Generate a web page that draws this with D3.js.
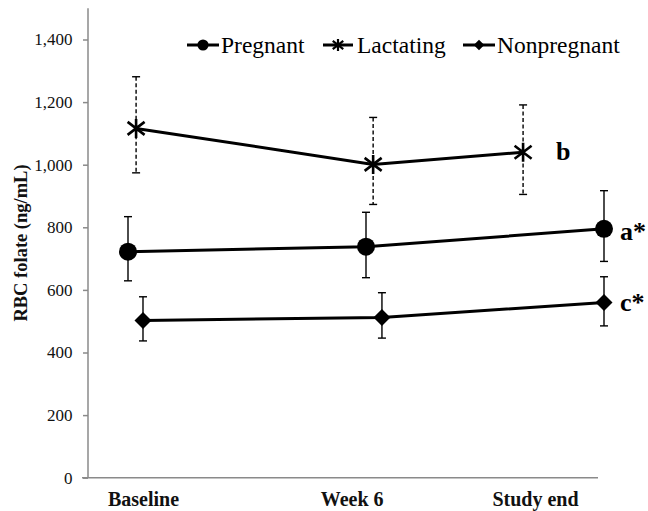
<!DOCTYPE html>
<html>
<head>
<meta charset="utf-8">
<script src="https://cdn.jsdelivr.net/npm/d3@7/dist/d3.min.js"></script>
<style>
  html, body { margin: 0; padding: 0; background: #fff; }
  svg { display: block; }
  text { font-family: "Liberation Serif", "Times New Roman", serif; }
</style>
</head>
<body>
<svg id="chart" width="648" height="511"></svg>
<script>
// ---- data ----
const categories = ["Baseline", "Week 6", "Study end"];
const categoryLabelX = [0.063, 0.94, 1.71];           // where the category labels sit on the time axis
const yTicks = [0, 200, 400, 600, 800, 1000, 1200, 1400];

const seriesNames = ["Pregnant", "Lactating", "Nonpregnant"];

const pregnantX     = [0, 1, 2];
const pregnantMean  = [722, 738, 795];
const pregnantUpper = [834, 848, 917];
const pregnantLower = [629, 639, 691];

const lactatingX     = [0.034, 1.03, 1.66];
const lactatingMean  = [1116, 1001, 1040];
const lactatingUpper = [1281, 1151, 1191];
const lactatingLower = [974, 873, 905];

const nonpregnantX     = [0.063, 1.067, 2.0];
const nonpregnantMean  = [502, 512, 560];
const nonpregnantUpper = [578, 591, 642];
const nonpregnantLower = [437, 446, 485];

const endLabels = ["a*", "b", "c*"];

// ---- build ----
const svg = d3.select("#chart");
const axisX = 88, axisY = 477.7;

const x = d3.scaleLinear().domain([0, 2]).range([128, 604]);
const y = d3.scaleLinear().domain([0, 1500]).range([axisY, 8.2]);

function build(xs, m, u, l) {
  return xs.map((v, i) => ({ x: v, mean: m[i], hi: u[i], lo: l[i] }));
}
const series = [
  { name: seriesNames[0], marker: "circle",  dashed: false, label: endLabels[0], labelDx: 16, labelDy: 11,
    pts: build(pregnantX, pregnantMean, pregnantUpper, pregnantLower) },
  { name: seriesNames[1], marker: "star",    dashed: true,  label: endLabels[1], labelDx: 33, labelDy: 8,
    pts: build(lactatingX, lactatingMean, lactatingUpper, lactatingLower) },
  { name: seriesNames[2], marker: "diamond", dashed: false, label: endLabels[2], labelDx: 16, labelDy: 9,
    pts: build(nonpregnantX, nonpregnantMean, nonpregnantUpper, nonpregnantLower) }
];

const axisColor = "#8a8a8a";
const serif = '"Liberation Serif", "Times New Roman", serif';

// y axis
const yAxis = d3.axisLeft(y).tickValues(yTicks).tickFormat(d3.format(",")).tickSize(5).tickPadding(10.5);
const gy = svg.append("g").attr("transform", `translate(${axisX},0)`).call(yAxis)
  .attr("font-family", serif);
gy.select(".domain").remove();
gy.selectAll(".tick line").attr("stroke", axisColor).attr("stroke-width", 1.5);
gy.selectAll(".tick text").attr("font-size", 17).attr("fill", "#111");
svg.append("line").attr("x1", axisX).attr("x2", axisX).attr("y1", y(1500)).attr("y2", axisY)
  .attr("stroke", axisColor).attr("stroke-width", 1.5);

// x axis line
svg.append("line").attr("x1", 82).attr("x2", 598).attr("y1", axisY).attr("y2", axisY)
  .attr("stroke", axisColor).attr("stroke-width", 1.5);

// category labels
const xAxis = d3.axisBottom(x).tickValues(categoryLabelX).tickFormat((d, i) => categories[i]).tickSize(0).tickPadding(14);
const gx = svg.append("g").attr("transform", `translate(0,${axisY})`).call(xAxis)
  .attr("font-family", serif);
gx.select(".domain").remove();
gx.selectAll(".tick text").attr("font-size", 20).attr("font-weight", "bold").attr("fill", "#111");

// y title
svg.append("text")
  .attr("transform", `translate(27,243) rotate(-90)`)
  .attr("text-anchor", "middle")
  .attr("font-size", 18.5).attr("font-weight", "bold").attr("fill", "#111")
  .text("RBC folate (ng/mL)");

// marker drawing
function drawMarker(g, type, cx, cy, scale) {
  if (type === "circle") {
    g.append("circle").attr("cx", cx).attr("cy", cy).attr("r", 9 * scale).attr("fill", "#000");
  } else if (type === "diamond") {
    const s = 8.5 * scale;
    g.append("path").attr("d", `M${cx},${cy - s}L${cx + s},${cy}L${cx},${cy + s}L${cx - s},${cy}Z`).attr("fill", "#000");
  } else {
    const h = 9.5 * scale, w = 8.5 * scale, d = 6.5 * scale;
    g.append("path")
      .attr("d", `M${cx},${cy - h}L${cx},${cy + h}M${cx - w},${cy - d}L${cx + w},${cy + d}M${cx - w},${cy + d}L${cx + w},${cy - d}`)
      .attr("stroke", "#000").attr("stroke-width", 2.6 * Math.max(scale, 0.85)).attr("fill", "none");
  }
}

const line = d3.line().x(d => x(d.x)).y(d => y(d.mean));

series.forEach(s => {
  const g = svg.append("g");
  // error bars
  s.pts.forEach(p => {
    const px = x(p.x);
    const eb = g.append("g").attr("stroke", "#000").attr("stroke-width", 1.4);
    eb.append("line").attr("x1", px).attr("x2", px).attr("y1", y(p.hi)).attr("y2", y(p.lo))
      .attr("stroke-dasharray", s.dashed ? "4,2.5" : null);
    eb.append("line").attr("x1", px - 4).attr("x2", px + 4).attr("y1", y(p.hi)).attr("y2", y(p.hi));
    eb.append("line").attr("x1", px - 4).attr("x2", px + 4).attr("y1", y(p.lo)).attr("y2", y(p.lo));
  });
  g.append("path").datum(s.pts).attr("d", line).attr("fill", "none").attr("stroke", "#000").attr("stroke-width", 3);
  s.pts.forEach(p => drawMarker(g, s.marker, x(p.x), y(p.mean), 1));
  const last = s.pts[s.pts.length - 1];
  g.append("text").attr("x", x(last.x) + s.labelDx).attr("y", y(last.mean) + s.labelDy)
    .attr("font-size", 26).attr("font-weight", "bold").attr("fill", "#000").text(s.label);
});

// legend
const legendItems = [
  { name: seriesNames[0], marker: "circle",  x0: 187, x1: 219, tx: 221 },
  { name: seriesNames[1], marker: "star",    x0: 323, x1: 353, tx: 357 },
  { name: seriesNames[2], marker: "diamond", x0: 463, x1: 495, tx: 497 }
];
const lg = svg.append("g");
const ly = 45;
legendItems.forEach(it => {
  lg.append("line").attr("x1", it.x0).attr("x2", it.x1).attr("y1", ly).attr("y2", ly)
    .attr("stroke", "#000").attr("stroke-width", 3);
  drawMarker(lg, it.marker, (it.x0 + it.x1) / 2, ly, 0.62);
  lg.append("text").attr("x", it.tx).attr("y", ly + 8).attr("font-size", 23.5).attr("fill", "#000").text(it.name);
});
</script>
</body>
</html>
